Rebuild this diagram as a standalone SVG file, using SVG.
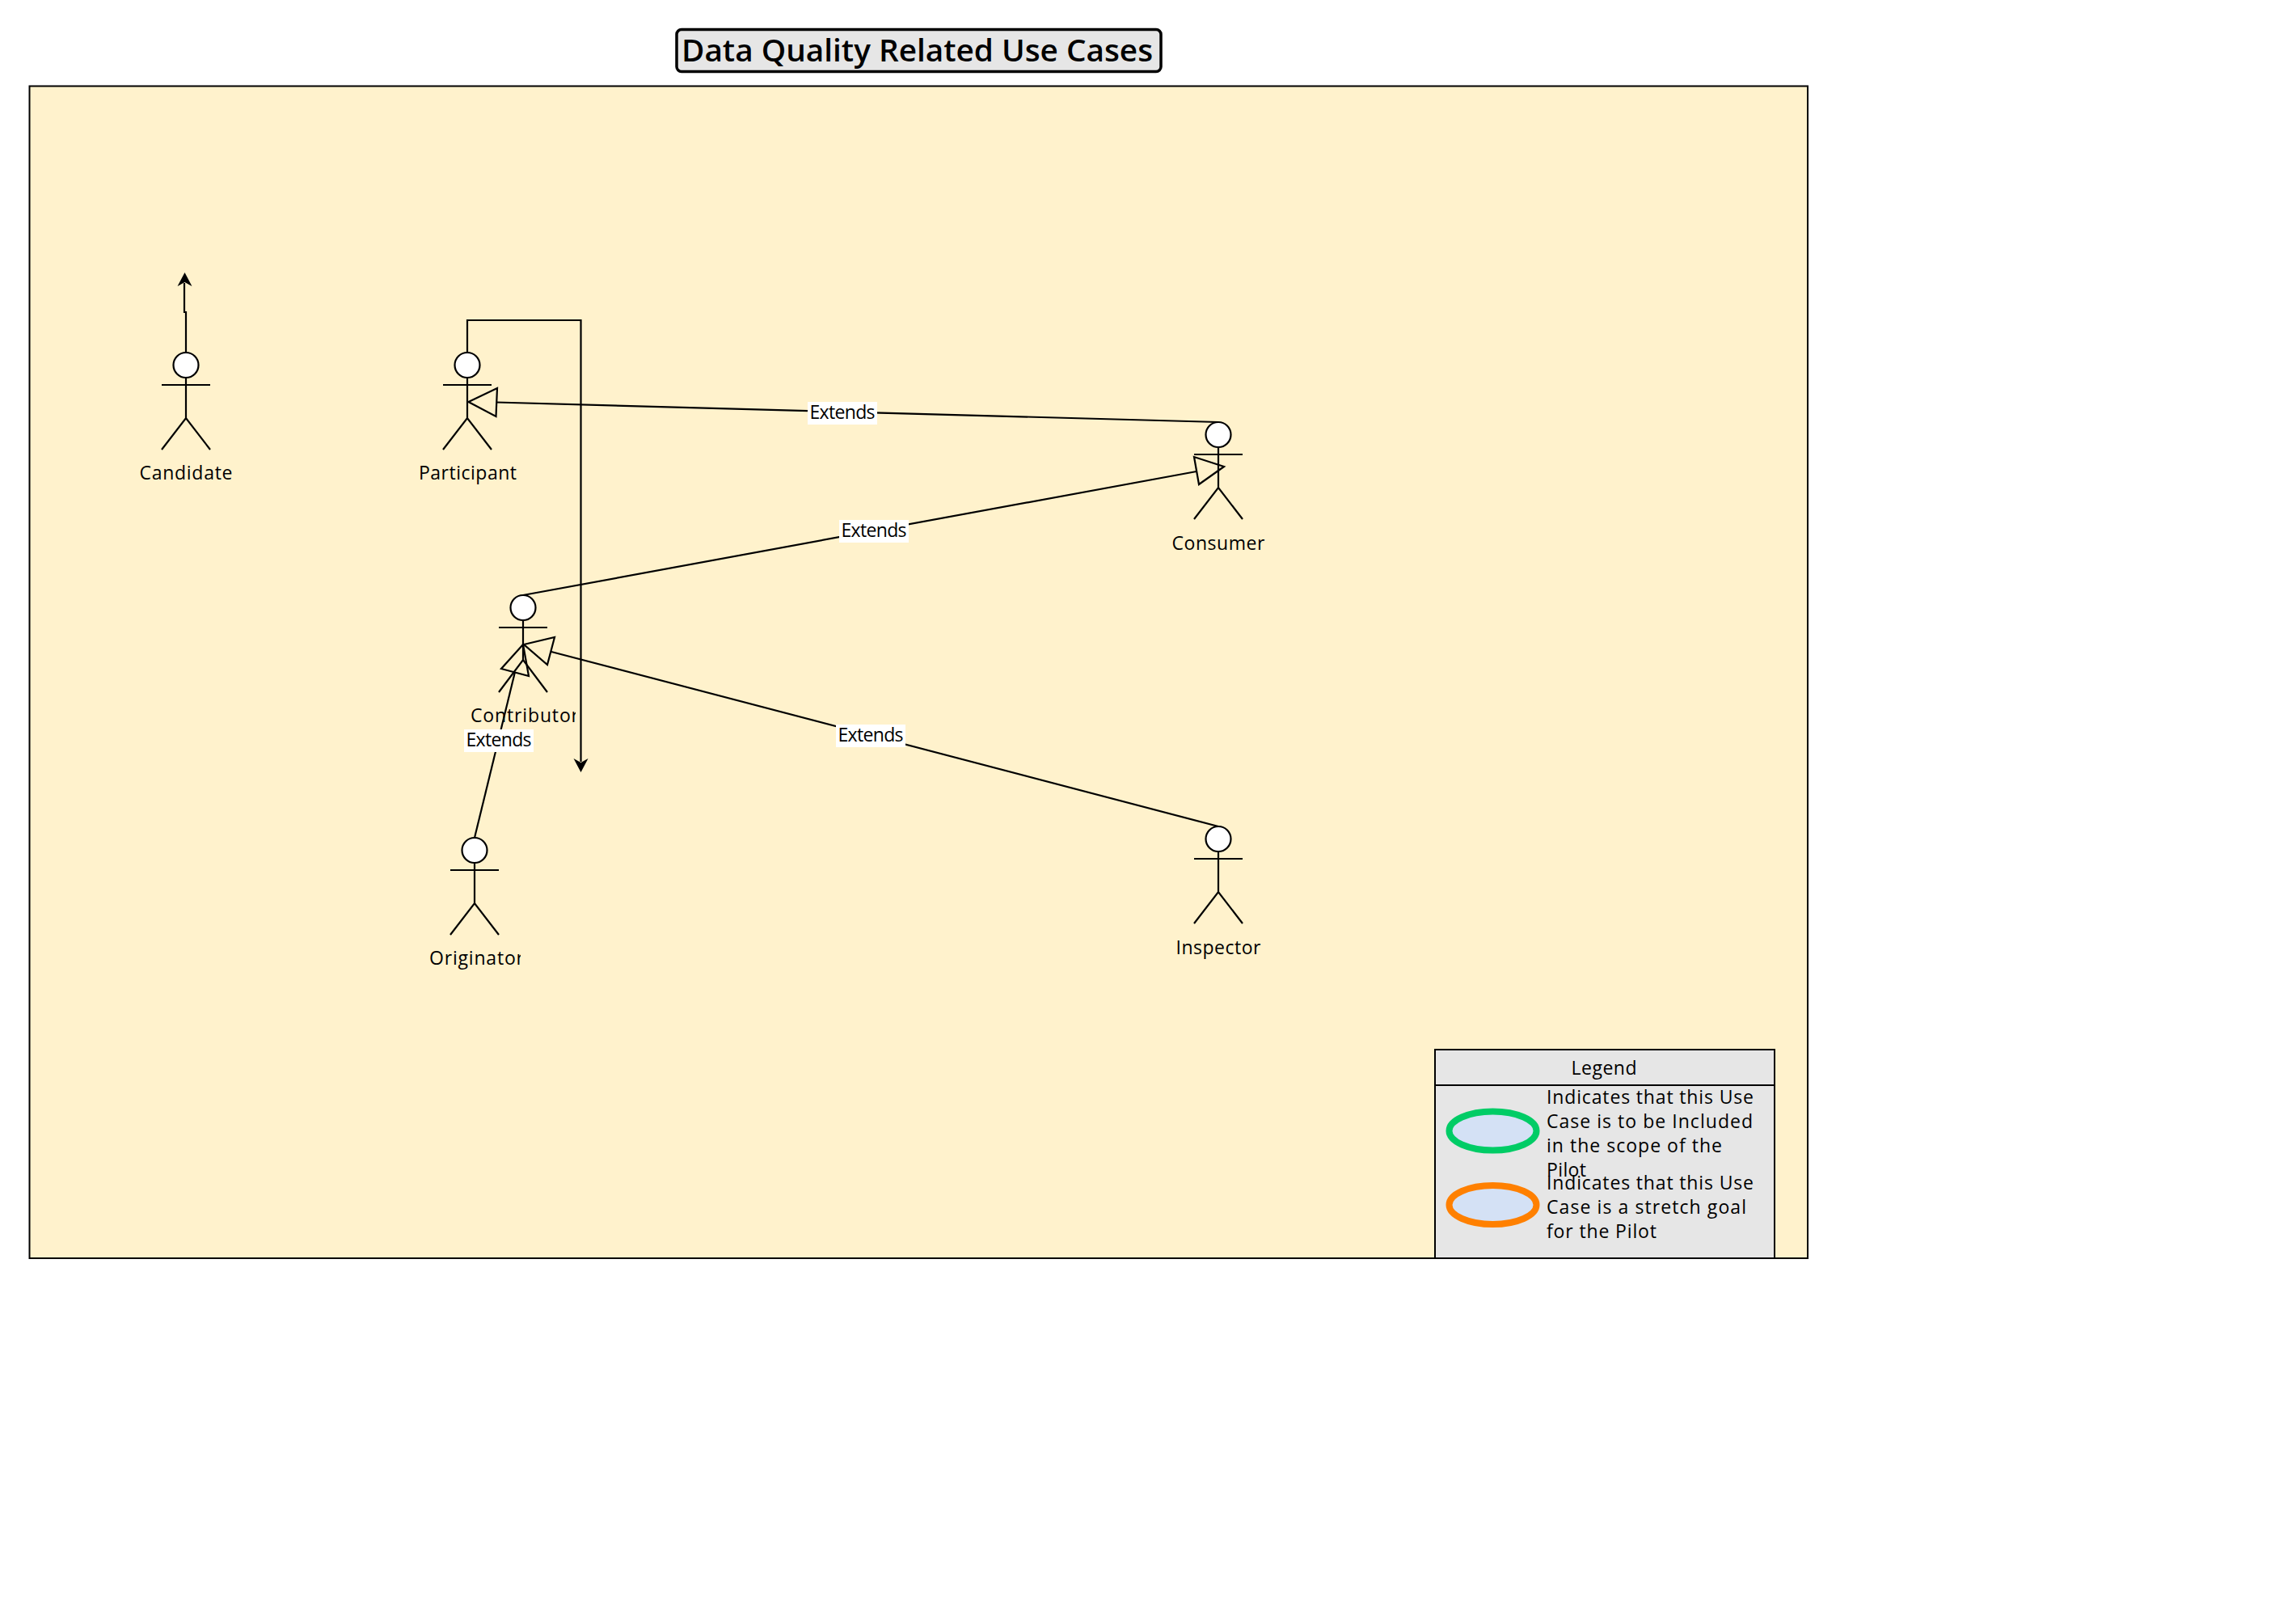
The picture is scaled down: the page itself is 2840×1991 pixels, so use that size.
<svg xmlns="http://www.w3.org/2000/svg" width="2840" height="1991" viewBox="0 0 2840 1991">
<style>
text{font-family:"Open Sans","DejaVu Sans",sans-serif;font-size:23px;fill:#000}
.c{text-anchor:middle}
.t{font-size:37px;font-weight:600}
.l{fill:none;stroke:#000;stroke-width:2.2}
.h{fill:#fff;stroke:#000;stroke-width:2.2}
.tri{fill:none;stroke:#000;stroke-width:2.2}
.f{fill:#000;stroke:none}
.lb{fill:#fff}
.box{fill:#e6e6e6;stroke:#000;stroke-width:2}
.el{fill:#d4e1f5;stroke-width:8}
</style>
<defs>
<clipPath id="cc"><rect x="560" y="865" width="152" height="40"/></clipPath>
<clipPath id="co"><rect x="520" y="1165" width="124" height="50"/></clipPath>
</defs>
<rect id="canvas" x="36.500" y="106.500" width="2199.500" height="1449.500" fill="#fff2cc" stroke="#000" stroke-width="2"/>
<g id="title"><rect x="837" y="36.500" width="599" height="52" rx="6" fill="#e6e6e6" stroke="#000" stroke-width="3.500"/><text class="t" x="843" y="76" textLength="583" lengthAdjust="spacingAndGlyphs">Data Quality Related Use Cases</text></g>
<g id="connectors">
<path class="l" d="M230 436V386H228V350"/><path class="f" d="M228.500 337L237.500 354L228.500 349L219.500 354Z"/>
<path class="l" d="M578 436V396H718.500V942"/><path class="f" d="M718.500 955L709.500 938L718.500 943L727.500 938Z"/>
<path class="l" d="M1507 522L614 497.500"/><path class="tri" d="M579.500 497L615 480L613.500 515Z"/>
<path class="l" d="M647 736L1480 583"/><path class="tri" d="M1514 577L1477 565L1483 599Z"/>
<path class="l" d="M1507 1022L682 806"/><path class="tri" d="M648 797L686 788L677 822Z"/>
<path class="l" d="M587 1036L637 831"/><path class="tri" d="M647 797L620 827L654 836Z"/>
</g>
<g id="candidate"><circle class="h" cx="230" cy="451.500" r="15.500"/><path class="l" d="M230 467V517M200 476H260M200 556L230 517L260 556"/><text class="c" x="230" y="593" textLength="115">Candidate</text></g>
<g id="participant"><circle class="h" cx="578" cy="451.500" r="15.500"/><path class="l" d="M578 467V517M548 476H608M548 556L578 517L608 556"/><text class="c" x="578.500" y="593" textLength="121">Participant</text></g>
<g id="consumer"><circle class="h" cx="1507" cy="537.500" r="15.500"/><path class="l" d="M1507 553V603M1477 562H1537M1477 642L1507 603L1537 642"/><text class="c" x="1507" y="680" textLength="115">Consumer</text></g>
<g id="contributor"><circle class="h" cx="647" cy="751.500" r="15.500"/><path class="l" d="M647 767V816M617 776H677M617 856L647 816L677 856"/><text x="582" y="893" clip-path="url(#cc)" textLength="134">Contributor</text></g>
<g id="originator"><circle class="h" cx="587" cy="1051.500" r="15.500"/><path class="l" d="M587 1067V1117M557 1076H617M557 1156L587 1117L617 1156"/><text x="531" y="1193" clip-path="url(#co)" textLength="117">Originator</text></g>
<g id="inspector"><circle class="h" cx="1507" cy="1037.500" r="15.500"/><path class="l" d="M1507 1053V1103M1477 1062H1537M1477 1142L1507 1103L1537 1142"/><text class="c" x="1507" y="1180" textLength="105">Inspector</text></g>
<g id="edge-labels">
<rect class="lb" x="999" y="497" width="86" height="28"/><text class="c" x="1042" y="518" textLength="81">Extends</text>
<rect class="lb" x="1038" y="643" width="86" height="28"/><text class="c" x="1081" y="664" textLength="81">Extends</text>
<rect class="lb" x="1034" y="896" width="86" height="28"/><text class="c" x="1077" y="917" textLength="81">Extends</text>
<rect class="lb" x="574" y="902" width="86" height="28"/><text class="c" x="617" y="923" textLength="81">Extends</text>
</g>
<g id="legend">
<rect class="box" x="1775" y="1298" width="420" height="258"/><path class="l" d="M1775 1342H2195"/>
<text class="c" x="1984" y="1329" textLength="81">Legend</text>
<ellipse class="el" cx="1846.500" cy="1398.500" rx="54" ry="24" stroke="#00cc66"/>
<ellipse class="el" cx="1846.500" cy="1490" rx="54" ry="24" stroke="#ff8000"/>
<text x="1913" y="1365" textLength="256">Indicates that this Use</text>
<text x="1913" y="1395" textLength="255">Case is to be Included</text>
<text x="1913" y="1425" textLength="217">in the scope of the</text>
<text x="1913" y="1455" textLength="49">Pilot</text>
<text x="1913" y="1471" textLength="256">Indicates that this Use</text>
<text x="1913" y="1501" textLength="247">Case is a stretch goal</text>
<text x="1913" y="1531" textLength="136">for the Pilot</text>
</g>
</svg>
